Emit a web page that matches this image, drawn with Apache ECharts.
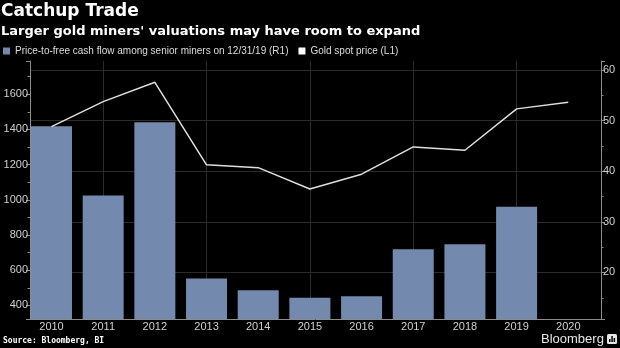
<!DOCTYPE html>
<html>
<head>
<meta charset="utf-8">
<script src="https://cdn.jsdelivr.net/npm/echarts@6/dist/echarts.min.js"></script>
<style>
  html, body { margin: 0; padding: 0; background: #000; }
  #chart { width: 620px; height: 348px; }
</style>
</head>
<body>
<div id="chart"></div>
<script>
// Year-end values, 2010-2020
const years = [2010, 2011, 2012, 2013, 2014, 2015, 2016, 2017, 2018, 2019, 2020];
// Gold spot price, USD/oz (left axis)
const goldPrice = [1416, 1558, 1668, 1199, 1183, 1062, 1146, 1301, 1282, 1517, 1555];
// Price-to-free cash flow among senior miners (right axis), no 2020 value
const priceToFcf = [48.9, 35.2, 49.7, 18.8, 16.5, 15.0, 15.3, 24.6, 25.6, 33.0];

const seriesNames = [
  'Price-to-free cash flow among senior miners on 12/31/19 (R1)',
  'Gold spot price (L1)'
];

// Axis ranges and tick steps
const goldAxis = { min: 323, max: 1789, step: 200 };
const ratioAxis = { min: 10.8, max: 61.8, step: 10 };
const yearAxis = { min: 2009.584, max: 2020.633, step: 1 };

const labelFont = '"Liberation Sans", Arial, sans-serif';
const headFont = '"DejaVu Sans", sans-serif';
const axisGray = '#8c8c8c';
const gridGray = '#2b2b2b';
const labelGray = '#cfcfcf';

const chart = echarts.init(document.getElementById('chart'), null, { renderer: 'canvas' });

chart.setOption({
  backgroundColor: '#000',
  animation: false,
  title: [
    {
      text: 'Catchup Trade',
      left: 1, top: 3, padding: 0,
      textStyle: { color: '#fff', fontFamily: headFont, fontWeight: 'bold', fontSize: 17 }
    },
    {
      text: "Larger gold miners' valuations may have room to expand",
      left: 1, top: 25, padding: 0,
      textStyle: { color: '#fff', fontFamily: headFont, fontWeight: 'bold', fontSize: 13 }
    },
    {
      text: 'Source: Bloomberg, BI',
      left: 3, top: 337, padding: 0,
      textStyle: { color: '#fff', fontFamily: '"DejaVu Sans Mono", monospace', fontWeight: 'bold', fontSize: 8 }
    }
  ],
  legend: {
    left: 3, top: 46, padding: 0,
    icon: 'rect', itemWidth: 7, itemHeight: 7, itemGap: 10,
    textStyle: { color: '#dcdcdc', fontFamily: labelFont, fontSize: 10 },
    data: seriesNames
  },
  grid: { left: 30, right: 19, top: 61, bottom: 29, containLabel: false },
  xAxis: [
    {
      type: 'value',
      min: yearAxis.min, max: yearAxis.max,
      minInterval: yearAxis.step, maxInterval: yearAxis.step, splitNumber: 11,
      axisLine: { show: true, lineStyle: { color: axisGray, width: 1 } },
      axisTick: { show: false },
      axisLabel: {
        color: labelGray, fontFamily: labelFont, fontSize: 11, margin: 2,
        showMinLabel: false, showMaxLabel: false,
        formatter: v => String(v)
      },
      splitLine: { show: false }
    },
    {
      // vertical grid every second year (2011, 2013, ...), shifted by one year
      type: 'value',
      min: yearAxis.min - 1, max: yearAxis.max - 1,
      minInterval: 2, maxInterval: 2, splitNumber: 5,
      axisLine: { show: false },
      axisTick: { show: false },
      axisLabel: { show: false },
      splitLine: { show: true, showMinLine: false, showMaxLine: false, lineStyle: { color: gridGray, width: 1 } }
    }
  ],
  yAxis: [
    {
      type: 'value', position: 'left',
      min: goldAxis.min, max: goldAxis.max,
      minInterval: goldAxis.step, maxInterval: goldAxis.step, splitNumber: 7,
      axisLine: { show: true, lineStyle: { color: axisGray, width: 1 } },
      axisTick: { show: true, length: 4, lineStyle: { color: axisGray } },
      minorTick: { show: true, splitNumber: 2, length: 2.5, lineStyle: { color: axisGray } },
      axisLabel: {
        color: labelGray, fontFamily: labelFont, fontSize: 11, margin: 2,
        showMinLabel: false, showMaxLabel: false,
        formatter: v => String(v)
      },
      splitLine: { show: false }
    },
    {
      type: 'value', position: 'right',
      min: ratioAxis.min, max: ratioAxis.max,
      minInterval: ratioAxis.step, maxInterval: ratioAxis.step, splitNumber: 5,
      axisLine: { show: true, lineStyle: { color: axisGray, width: 1 } },
      axisTick: { show: true, length: 4, lineStyle: { color: axisGray } },
      minorTick: { show: true, splitNumber: 2, length: 2.5, lineStyle: { color: axisGray } },
      axisLabel: {
        color: labelGray, fontFamily: labelFont, fontSize: 11, margin: 2,
        showMinLabel: false, showMaxLabel: false
      },
      splitLine: { show: true, showMinLine: false, showMaxLine: false, lineStyle: { color: gridGray, width: 1 } }
    }
  ],
  graphic: [
    {
      type: 'text', left: 541, top: 333,
      style: {
        text: 'Bloomberg', fill: '#e6e6e6',
        fontFamily: '"Liberation Sans", Arial, sans-serif', fontSize: 13
      }
    },
    {
      type: 'group', left: 607, top: 334,
      children: [
        { type: 'rect', shape: { x: 0, y: 0, width: 10, height: 10, r: 1.5 }, style: { fill: '#e6e6e6' } },
        { type: 'rect', shape: { x: 2, y: 5, width: 1.5, height: 3 }, style: { fill: '#000' } },
        { type: 'rect', shape: { x: 4.3, y: 2, width: 1.5, height: 6 }, style: { fill: '#000' } },
        { type: 'rect', shape: { x: 6.6, y: 4, width: 1.5, height: 4 }, style: { fill: '#000' } }
      ]
    }
  ],
  series: [
    {
      name: seriesNames[0],
      type: 'bar',
      xAxisIndex: 0, yAxisIndex: 1,
      barWidth: 41,
      itemStyle: { color: '#7389ad' },
      data: priceToFcf.map((v, i) => [years[i], v])
    },
    {
      name: seriesNames[1],
      type: 'line',
      xAxisIndex: 0, yAxisIndex: 0,
      symbol: 'none',
      lineStyle: { color: '#dedede', width: 1.5 },
      itemStyle: { color: '#ffffff' },
      data: goldPrice.map((v, i) => [years[i], v])
    }
  ]
});
</script>
</body>
</html>
